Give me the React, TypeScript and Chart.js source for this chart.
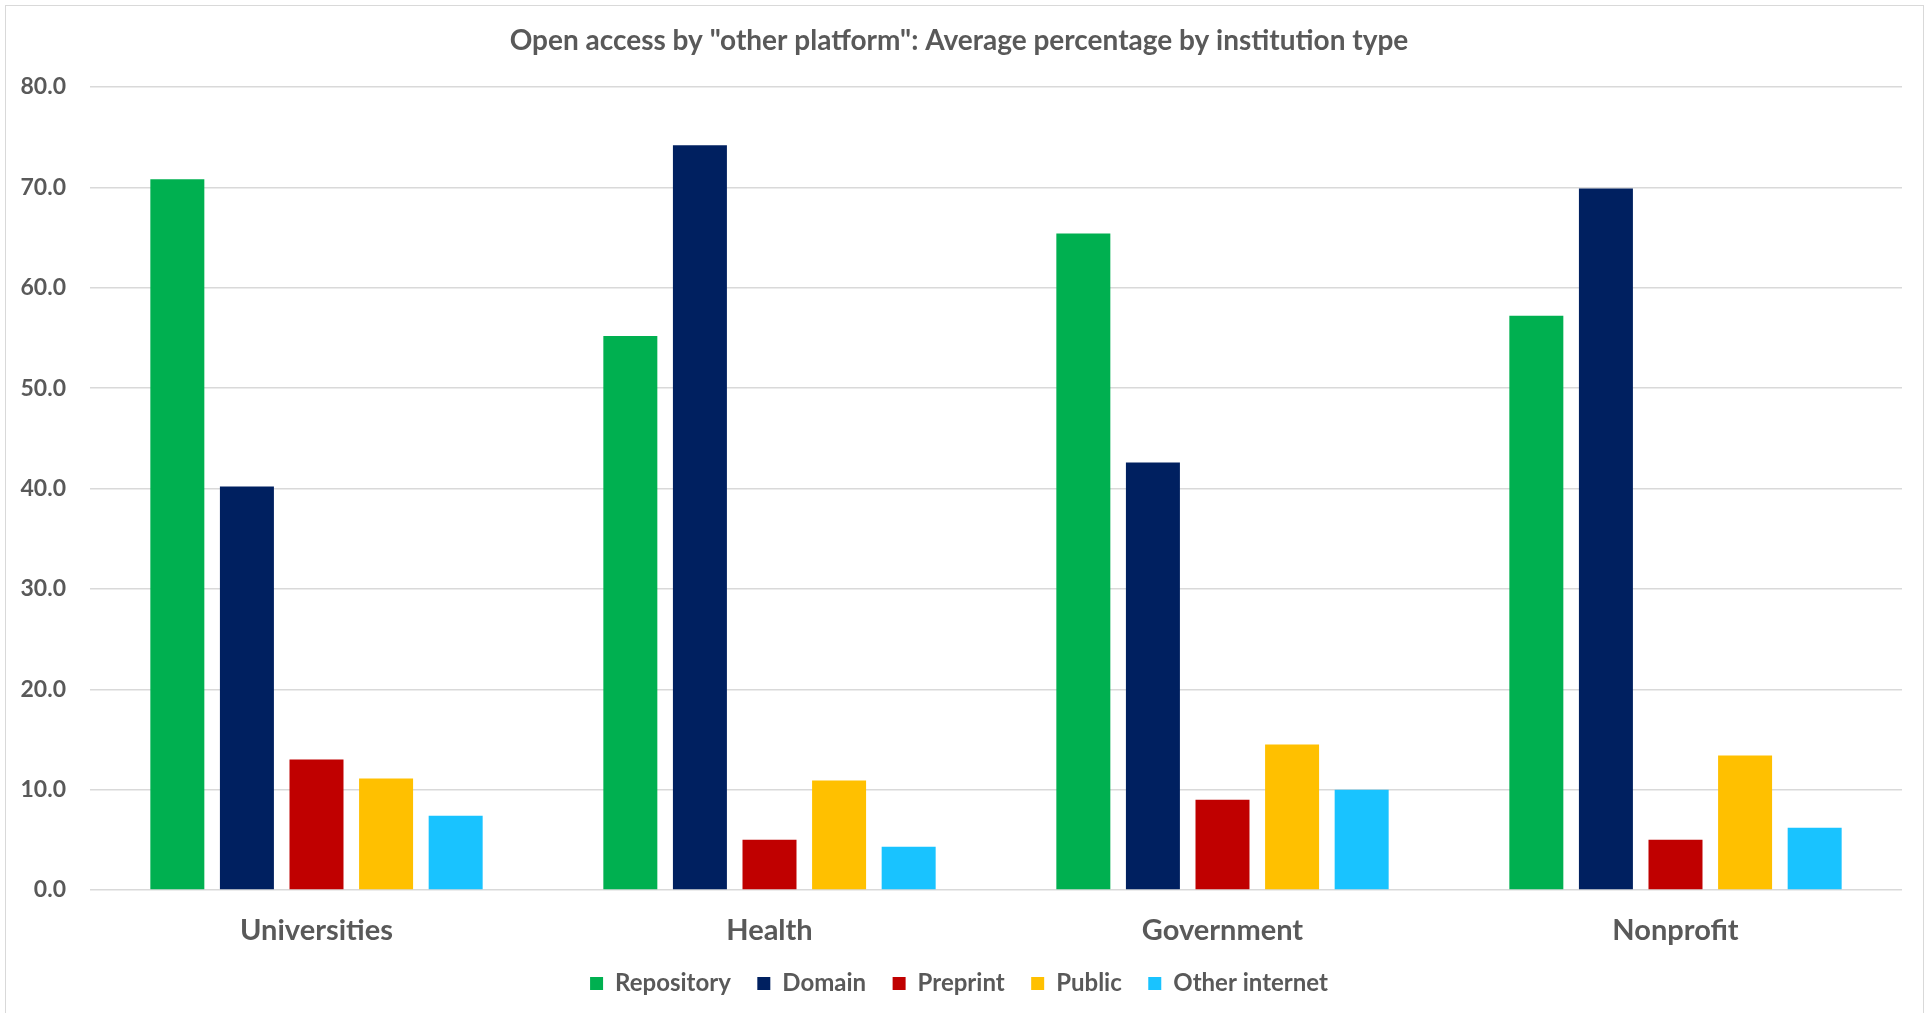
import React, { useEffect, useRef } from "react";
import { Chart, registerables } from "chart.js";

Chart.register(...registerables);

const titleText = 'Open access by "other platform": Average percentage by institution type';
const categories = ["Universities", "Health", "Government", "Nonprofit"];
const seriesNames = ["Repository", "Domain", "Preprint", "Public", "Other internet"];
const repository = [70.8, 55.2, 65.4, 57.2];
const domain = [40.2, 74.2, 42.6, 69.9];
const preprint = [13.0, 5.0, 9.0, 5.0];
const publicPlatform = [11.1, 10.9, 14.5, 13.4];
const otherInternet = [7.4, 4.3, 10.0, 6.2];
const seriesColors = ["#00B050", "#002060", "#C00000", "#FFC000", "#19C3FF"];
const yMin = 0;
const yMax = 80;
const yStep = 10;

const TEXT = "#595959";
const FONT = "Lato, 'Open Sans', sans-serif";

export default function App() {
  const ref = useRef<HTMLCanvasElement | null>(null);

  useEffect(() => {
    document.body.style.margin = "0";
    document.body.style.overflow = "hidden";
    document.documentElement.style.overflow = "hidden";
    const canvas = ref.current;
    if (!canvas) return;
    const values = [repository, domain, preprint, publicPlatform, otherInternet];
    const chart = new Chart(canvas, {
      type: "bar",
      data: {
        labels: categories,
        datasets: seriesNames.map((name, i) => ({
          label: name,
          data: values[i],
          backgroundColor: seriesColors[i],
          borderWidth: 0,
          categoryPercentage: 0.768,
          barPercentage: 0.776,
        })),
      },
      options: {
        responsive: false,
        animation: false,
        layout: { padding: { left: 10, right: 21, top: 0, bottom: 7.5 } },
        plugins: {
          tooltip: { enabled: false },
          title: {
            display: true,
            text: titleText,
            color: TEXT,
            font: { family: FONT, size: 28, weight: "bold", lineHeight: 1.2 },
            padding: { top: 18, bottom: 29.4 },
          },
          legend: {
            position: "bottom",
            labels: {
              color: TEXT,
              font: { family: FONT, size: 24, weight: "bold" },
              boxWidth: 13,
              boxHeight: 13,
              padding: 26.5,
            },
          },
        },
        scales: {
          x: {
            grid: { display: false, drawTicks: false },
            border: { display: false },
            ticks: {
              color: TEXT,
              font: { family: FONT, size: 29, weight: "bold", lineHeight: 1.0 },
              padding: 26,
            },
            afterFit: (scale: any) => {
              scale.height = 55;
            },
          },
          y: {
            min: yMin,
            max: yMax,
            grid: { color: "#d9d9d9", lineWidth: 1.5, drawTicks: false },
            border: { display: false },
            ticks: {
              stepSize: yStep,
              color: TEXT,
              font: { family: FONT, size: 23, weight: "bold" },
              padding: 24,
              callback: (v: any) => Number(v).toFixed(1),
            },
            afterFit: (scale: any) => {
              scale.width = 74;
            },
          },
        },
      },
    });
    return () => chart.destroy();
  }, []);

  return (
    <div
      style={{
        position: "absolute",
        left: 5,
        top: 5,
        width: 1919,
        height: 1020,
        border: "1px solid #d9d9d9",
        boxSizing: "border-box",
        background: "#fff",
        overflow: "hidden",
      }}
    >
      <canvas ref={ref} width={1917} height={1007} style={{ display: "block" }} />
    </div>
  );
}
